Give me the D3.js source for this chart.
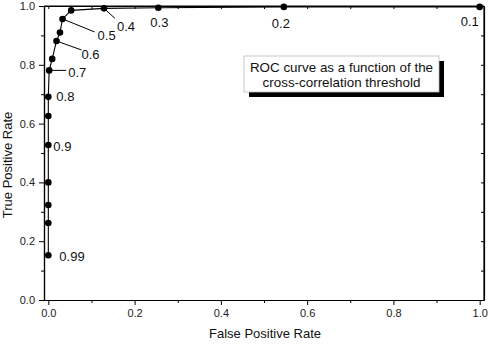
<!DOCTYPE html>
<html>
<head>
<meta charset="utf-8">
<script src="https://cdn.jsdelivr.net/npm/d3@7"></script>
<style>
  html, body { margin: 0; padding: 0; background: #fff; }
  svg { display: block; font-family: "Liberation Sans", Arial, sans-serif; }
</style>
</head>
<body>
<svg id="chart" width="490" height="344"></svg>
<script>
// ---- data ----
const fpr = [0, 0, 0, 0, 0, 0, 0, 0.002, 0.009, 0.019, 0.027, 0.033, 0.053, 0.129, 0.255, 0.546, 1.0];
const tpr = [0.152, 0.262, 0.323, 0.400, 0.527, 0.626, 0.691, 0.781, 0.820, 0.881, 0.910, 0.956, 0.985, 0.992, 0.994, 0.997, 0.997];
const thresholdLabels = ["0.99", "", "", "", "0.9", "", "0.8", "0.7", "", "0.6", "", "0.5", "", "0.4", "0.3", "0.2", "0.1"];
const xTickValues = [0, 0.2, 0.4, 0.6, 0.8, 1.0];
const yTickValues = [0, 0.2, 0.4, 0.6, 0.8, 1.0];
const xTitle = "False Positive Rate";
const yTitle = "True Positive Rate";
const noteLines = ["ROC curve as a function of the", "cross-correlation threshold"];

// ---- layout ----
const svg = d3.select("#chart");
const L = 44, R = 484, T = 6, B = 300;
const x = d3.scaleLinear().domain([-0.01, 1.01]).range([L, R]);
const y = d3.scaleLinear().domain([0, 1]).range([B, T]);
const fmt = d3.format(".1f");
const minorX = d3.range(0.1, 1.0, 0.2);
const minorY = d3.range(0.1, 1.0, 0.2);
const allTenths = d3.range(0, 11).map(i => i / 10);

// bottom axis
svg.append("g").attr("transform", `translate(0,${B})`)
  .call(d3.axisBottom(x).tickValues(xTickValues).tickFormat(fmt).tickSize(5).tickPadding(4).tickSizeOuter(0));
svg.append("g").attr("transform", `translate(0,${B})`)
  .call(d3.axisBottom(x).tickValues(minorX).tickFormat("").tickSize(3).tickSizeOuter(0));
// left axis
svg.append("g").attr("transform", `translate(${L},0)`)
  .call(d3.axisLeft(y).tickValues(yTickValues).tickFormat(fmt).tickSize(5).tickPadding(4).tickSizeOuter(0));
svg.append("g").attr("transform", `translate(${L},0)`)
  .call(d3.axisLeft(y).tickValues(minorY).tickFormat("").tickSize(3).tickSizeOuter(0));
// top axis (inward ticks)
svg.append("g").attr("transform", `translate(0,${T})`)
  .call(d3.axisBottom(x).tickValues(allTenths).tickFormat("").tickSize(3).tickSizeOuter(0));
// right axis (inward ticks)
svg.append("g").attr("transform", `translate(${R},0)`)
  .call(d3.axisLeft(y).tickValues(allTenths).tickFormat("").tickSize(3).tickSizeOuter(0));

svg.selectAll(".domain").attr("stroke", "#000").attr("stroke-width", 1.2);
svg.selectAll(".tick line").attr("stroke", "#000").attr("stroke-width", 1);
svg.selectAll(".tick text").attr("font-size", 11).attr("fill", "#222")
  .attr("font-family", "'Liberation Sans', Arial, sans-serif");
// frame lines top/right
svg.append("line").attr("x1", L).attr("x2", R).attr("y1", T).attr("y2", T).attr("stroke", "#000").attr("stroke-width", 1.2);
svg.append("line").attr("x1", R).attr("x2", R).attr("y1", T).attr("y2", B).attr("stroke", "#000").attr("stroke-width", 1.2);

// axis titles
svg.append("text").attr("x", (L + R) / 2 + 1).attr("y", 338).attr("text-anchor", "middle")
  .attr("font-size", 13).attr("fill", "#111").text(xTitle);
svg.append("text").attr("transform", `translate(12,${165}) rotate(-90)`).attr("text-anchor", "middle")
  .attr("font-size", 13).attr("fill", "#111").text(yTitle);

// curve
const pts = fpr.map((f, i) => ({ f, t: tpr[i], label: thresholdLabels[i] }));
svg.append("path").datum(pts)
  .attr("d", d3.line().x(d => x(d.f)).y(d => y(d.t)))
  .attr("fill", "none").attr("stroke", "#000").attr("stroke-width", 1.1);

// label layout offsets (pixels relative to point): text dx, dy(center), leader end
const labelLayout = {
  "0.99": { dx: 11, dy: 1 },
  "0.9": { dx: 5, dy: 1 },
  "0.8": { dx: 8, dy: 0 },
  "0.7": { dx: 19, dy: 2, lx: 17, ly: 0 },
  "0.6": { dx: 25, dy: 13, lx: 25, ly: 9 },
  "0.5": { dx: 35, dy: 17, lx: 32, ly: 13 },
  "0.4": { dx: 13, dy: 18, lx: 11, ly: 10 },
  "0.3": { dx: -8, dy: 15 },
  "0.2": { dx: -12, dy: 17 },
  "0.1": { dx: -19, dy: 15 }
};
pts.filter(d => d.label).forEach(d => {
  const o = labelLayout[d.label];
  const px = x(d.f), py = y(d.t);
  if (o.lx !== undefined) {
    svg.append("line").attr("x1", px).attr("y1", py).attr("x2", px + o.lx).attr("y2", py + o.ly)
      .attr("stroke", "#000").attr("stroke-width", 1);
  }
  svg.append("text").attr("x", px + o.dx).attr("y", py + o.dy).attr("dy", "0.35em")
    .attr("font-size", 13).attr("fill", "#111").text(d.label);
});

svg.append("g").selectAll("circle").data(pts).join("circle")
  .attr("cx", d => x(d.f)).attr("cy", d => y(d.t)).attr("r", 3.3).attr("fill", "#000");

// note box
const bx = 244, by = 56, bw = 195, bh = 36;
svg.append("rect").attr("x", bx + 5).attr("y", by + 5).attr("width", bw).attr("height", bh).attr("fill", "#000");
svg.append("rect").attr("x", bx).attr("y", by).attr("width", bw).attr("height", bh)
  .attr("fill", "#fff").attr("stroke", "#bbb").attr("stroke-width", 0.8);
noteLines.forEach((s, i) => {
  svg.append("text").attr("x", bx + bw / 2).attr("y", 71.5 + i * 15).attr("text-anchor", "middle")
    .attr("font-size", 13.4).attr("fill", "#111").text(s);
});
</script>
</body>
</html>
